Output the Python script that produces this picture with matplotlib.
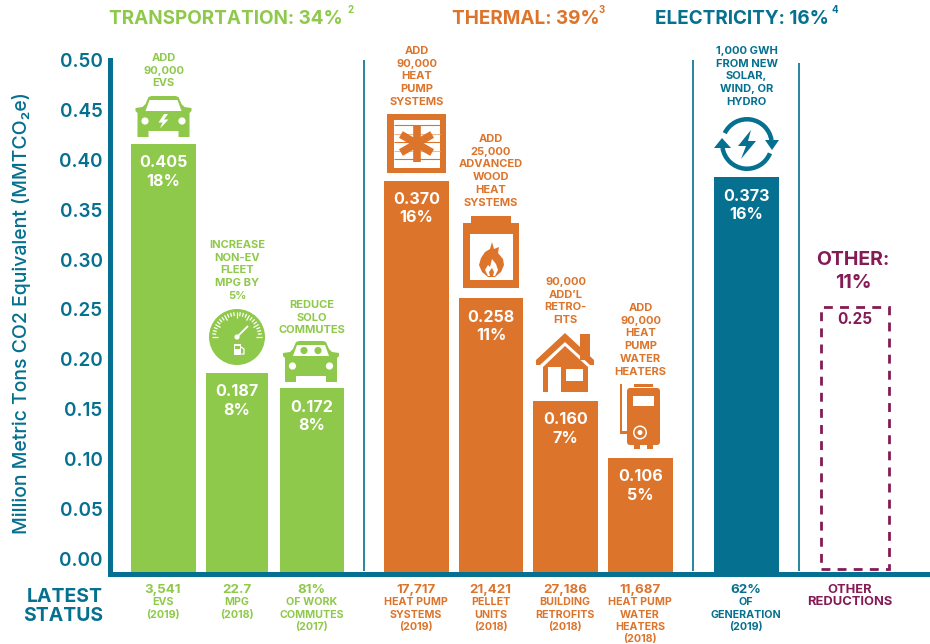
import numpy as np
import matplotlib
matplotlib.use('Agg')
import matplotlib.pyplot as plt
from matplotlib.patches import Rectangle, Circle, Polygon, Wedge, FancyBboxPatch

GREEN = '#8FC94B'
ORANGE = '#DD742B'
TEAL = '#05708F'
MAROON = '#851B55'

plt.rcParams['font.family'] = ['Inter', 'DejaVu Sans']

# chart values
bar_names = ['EVs', 'MPG', 'Commutes', 'Heat pumps', 'Pellet', 'Retrofits', 'HP water heaters', 'Generation']
bar_values = [0.405, 0.187, 0.172, 0.370, 0.258, 0.160, 0.106, 0.373]
bar_percents = ['18%', '8%', '8%', '16%', '11%', '7%', '5%', '16%']
bar_groups = ['t', 't', 't', 'h', 'h', 'h', 'h', 'e']
other_value = 0.25
y_ticks = [0.00, 0.05, 0.10, 0.15, 0.20, 0.25, 0.30, 0.35, 0.40, 0.45, 0.50]

captions = [
    ['ADD', '90,000', 'EVS'],
    ['INCREASE', 'NON-EV', 'FLEET', 'MPG BY', '5%'],
    ['REDUCE', 'SOLO', 'COMMUTES'],
    ['ADD', '90,000', 'HEAT', 'PUMP', 'SYSTEMS'],
    ['ADD', '25,000', 'ADVANCED', 'WOOD', 'HEAT', 'SYSTEMS'],
    ['90,000', 'ADD\u2019L', 'RETRO-', 'FITS'],
    ['ADD', '90,000', 'HEAT', 'PUMP', 'WATER', 'HEATERS'],
    ['1,000 GWH', 'FROM NEW', 'SOLAR,', 'WIND, OR', 'HYDRO'],
]
status = [
    ['3,541', 'EVS', '(2019)'],
    ['22.7', 'MPG', '(2018)'],
    ['81%', 'OF WORK', 'COMMUTES', '(2017)'],
    ['17,717', 'HEAT PUMP', 'SYSTEMS', '(2019)'],
    ['21,421', 'PELLET', 'UNITS', '(2018)'],
    ['27,186', 'BUILDING', 'RETROFITS', '(2018)'],
    ['11,687', 'HEAT PUMP', 'WATER', 'HEATERS', '(2018)'],
    ['62%', 'OF', 'GENERATION', '(2019)'],
]

# layout, in pixels of the 930x644 picture
colors = {'t': GREEN, 'h': ORANGE, 'e': TEAL}
bar_x = [163.5, 237, 312, 416.5, 491, 565.5, 640.5, 746.5]
bar_w = [65, 62, 64, 65, 64, 65, 65, 65]
caption_top = [57, 244, 304, 50, 138, 281, 307, 50]
LINE = 12.7
SCALE = 1050  # px per unit of bar height
ZERO = 569  # pixel row of value 0
W, H = 930, 644

fig = plt.figure(figsize=(9.3, 6.44), dpi=100)
ax = fig.add_axes([109.5 / W, (H - 573.5) / H, (W - 109.5) / W, 513.5 / H])
ax.set_xlim(109.5, W)
ax.set_ylim((ZERO - 573.5) / SCALE, (ZERO - 60) / SCALE)
ax.set_facecolor('none')

# bars run down into the axis line, which sits a little under value 0
ax.bar(bar_x, np.array(bar_values) + 4 / SCALE, bottom=-4 / SCALE, width=bar_w,
       color=[colors[g] for g in bar_groups], zorder=2)
ax.bar([855], [other_value], width=68, fill=False, edgecolor=MAROON, linewidth=2,
       linestyle=(0, (3.2, 2.6)), zorder=2)

for s in ['top', 'right']:
    ax.spines[s].set_visible(False)
for s in ['left', 'bottom']:
    ax.spines[s].set_linewidth(3.6)
    ax.spines[s].set_color(TEAL)
    ax.spines[s].set_zorder(3)
ax.set_xticks([])
ax.set_yticks([])


# printed scale of the original sits a bit off its bars, so it gets its own axis
def bar_to_tick(v):
    return (SCALE * np.asarray(v) - (ZERO - 559)) / 998


def tick_to_bar(t):
    return (998 * np.asarray(t) + (ZERO - 559)) / SCALE


sec = ax.secondary_yaxis('left', functions=(bar_to_tick, tick_to_bar))
sec.set_yticks(y_ticks)
sec.set_yticklabels(['%.2f' % t for t in y_ticks], fontsize=13.6, color=TEAL, fontweight='semibold')
sec.tick_params(length=0, pad=5)
sec.spines['left'].set_visible(False)

for x, v, p in zip(bar_x, bar_values, bar_percents):
    ax.annotate('%.3f' % v, (x, v), xytext=(0, -17.5), textcoords='offset pixels', ha='center',
                va='center_baseline', color='white', fontsize=11.6, fontweight='bold', zorder=4)
    ax.annotate(p, (x, v), xytext=(0, -36), textcoords='offset pixels', ha='center',
                va='center_baseline', color='white', fontsize=11.6, fontweight='bold', zorder=4)
ax.annotate('%.2f' % other_value, (855, other_value), xytext=(0, -12), textcoords='offset pixels',
            ha='center', va='center_baseline', color=MAROON, fontsize=11, fontweight='bold')

# overlay in picture pixels for the text and icons
ov = fig.add_axes([0, 0, 1, 1], zorder=5)
ov.set_xlim(0, W)
ov.set_ylim(H, 0)
ov.axis('off')


def label(x, y, t, c, size, ha='center', weight='bold'):
    # y is the middle of the capitals, so commas and brackets do not shift a line
    ov.text(x, y + 0.36 * size * 100 / 72, t, color=c, fontsize=size, fontweight=weight, ha=ha, va='baseline')


for x, y0, y1 in [(363.5, 60, 571), (693, 60, 571), (799, 63, 571)]:
    ov.plot([x, x], [y0, y1], color=TEAL, lw=1.2, solid_capstyle='butt')

label(109, 17, 'TRANSPORTATION: 34%', GREEN, 13.6, ha='left')
label(347, 9, '2', GREEN, 7, ha='left')
label(452, 17, 'THERMAL: 39%', ORANGE, 13.6, ha='left')
label(599, 9, '3', ORANGE, 7, ha='left')
label(655, 17, 'ELECTRICITY: 16%', TEAL, 13.6, ha='left')
label(831, 9, '4', TEAL, 7, ha='left')

ov.text(22, 313, 'Million Metric Tons CO2 Equivalent (MMTCO\u2082e)', color=TEAL, fontsize=14,
        fontweight='medium', rotation=90, ha='center', va='center')
label(853, 258, 'OTHER:', MAROON, 14)
label(853, 281, '11%', MAROON, 14)
label(103, 595, 'LATEST', TEAL, 14, ha='right')
label(103, 614, 'STATUS', TEAL, 14, ha='right')

for x, top, lines, g in zip(bar_x, caption_top, captions, bar_groups):
    for i, t in enumerate(lines):
        label(x, top + i * LINE, t, colors[g], 8.0)

for x, lines, g in zip(bar_x, status, bar_groups):
    label(x - 0.5, 588.5, lines[0], colors[g], 9.6)
    for i, t in enumerate(lines[1:]):
        label(x - 0.5, 601.5 + i * 12.3, t, colors[g], 7.7)
label(850, 588.5, 'OTHER', MAROON, 9.3)
label(850, 600.5, 'REDUCTIONS', MAROON, 9.3)


def rect(x0, y0, x1, y1, c):
    ov.add_patch(Rectangle((x0, y0), x1 - x0, y1 - y0, fc=c, ec='none'))


def poly(pts, c):
    ov.add_patch(Polygon(pts, closed=True, fc=c, ec='none'))


def circ(x, y, r, c):
    ov.add_patch(Circle((x, y), r, fc=c, ec='none'))


def car(cx, top, c):
    # body, 57 px wide and 42 px tall
    poly([(cx - 18, top + 8), (cx - 15, top + 1), (cx - 12, top), (cx + 12, top), (cx + 15, top + 1), (cx + 18, top + 8),
          (cx + 21, top + 11), (cx + 28, top + 12), (cx + 28, top + 15), (cx + 26, top + 17),
          (cx + 26, top + 41), (cx + 15, top + 41), (cx + 15, top + 35), (cx - 15, top + 35), (cx - 15, top + 41),
          (cx - 26, top + 41), (cx - 26, top + 17), (cx - 28, top + 15), (cx - 28, top + 12), (cx - 21, top + 11)], c)
    poly([(cx - 18, top + 15), (cx - 14, top + 4), (cx + 14, top + 4), (cx + 18, top + 15)], 'white')
    circ(cx - 18.5, top + 25, 3.6, 'white')
    circ(cx + 18.5, top + 25, 3.6, 'white')


# EV
car(163.5, 96, GREEN)
poly([(164, 114), (158.5, 122.5), (162.5, 122.5), (160, 128.5), (168.5, 119.5), (164, 119.5), (168, 114)], 'white')

# solo commute car, two heads in the windscreen
car(311, 341, GREEN)
circ(304, 350.5, 3.6, GREEN)
circ(318, 350.5, 3.6, GREEN)

# gauge
circ(237, 337, 28, GREEN)
for a in np.linspace(180, 360, 25):
    r0 = 19 if int(round((a - 180) / 7.5)) % 4 == 0 else 21
    c, s = np.cos(np.radians(a)), np.sin(np.radians(a))
    ov.plot([237 + r0 * c, 237 + 25 * c], [337 + r0 * s, 337 + 25 * s], color='white', lw=0.9, solid_capstyle='butt')
circ(237, 337, 2.6, 'white')
ov.plot([237, 248], [337, 326], color='white', lw=1.3, solid_capstyle='butt')
rect(233.5, 344, 241, 355, 'white')
rect(235, 346, 239.5, 349, GREEN)
ov.plot([241, 244, 244, 242], [347, 349, 354, 354], color='white', lw=0.9)

# heat pump unit
rect(387, 114, 446, 173, ORANGE)
rect(394, 120, 440, 168, 'white')
for y in [125, 133.5, 142, 151, 159]:
    ov.plot([394, 440], [y, y], color='#EDB78F' if y in (133.5, 151) else ORANGE, lw=0.8, solid_capstyle='butt')
for a in [90, 30, 150]:
    c, s = np.cos(np.radians(a)), np.sin(np.radians(a))
    ov.plot([416.5 - 18 * c, 416.5 + 18 * c], [143.5 - 18 * s, 143.5 + 18 * s], color=ORANGE, lw=5.5, solid_capstyle='butt')

# wood stove
rect(471, 216, 511, 224, ORANGE)
rect(463, 223, 519, 288, ORANGE)
rect(470, 234, 513, 280, 'white')
poly([(492, 242), (494, 249), (499, 247), (498, 253), (503, 259), (504, 265), (501, 272), (495, 277), (488, 277),
      (482, 272), (479, 265), (481, 258), (485, 252), (490, 249)], ORANGE)
poly([(492, 259), (496, 264), (498, 270), (495, 276), (488, 276), (485, 270), (488, 265), (490, 267)], 'white')
poly([(492, 268), (494, 272), (493, 276), (490, 276), (489, 272)], ORANGE)

# house
rect(580, 334, 590, 360, ORANGE)
poly([(565, 346), (588, 367), (588, 392), (543, 392), (543, 367)], ORANGE)
poly([(565, 333), (594, 360), (594, 365), (590, 365), (565, 342), (540, 365), (536, 365), (536, 360)], ORANGE)
rect(548, 367, 561, 392, 'white')
rect(566, 369, 583, 381, 'white')

# water heater
rect(634, 384, 653, 386.5, ORANGE)
ov.add_patch(FancyBboxPatch((629, 390), 29, 53, boxstyle='round,pad=2,rounding_size=3', fc=ORANGE, ec='none'))
rect(633, 396, 654, 406, 'white')
rect(634, 445, 640, 449, ORANGE)
rect(647, 445, 653, 449, ORANGE)
rect(620, 384, 622, 434, ORANGE)
rect(620, 431, 636, 434, ORANGE)
circ(640, 432.5, 7, 'white')
circ(640, 432.5, 5.5, ORANGE)
circ(640, 432.5, 2.5, 'white')

# renewables cycle
ov.add_patch(Wedge((747, 144), 27, 206, 351, width=4.5, fc=TEAL, ec='none'))
ov.add_patch(Wedge((747, 144), 27, 22, 171, width=4.5, fc=TEAL, ec='none'))
poly([(714, 148), (722, 138), (731, 148)], TEAL)
poly([(765, 140), (779, 140), (772, 150)], TEAL)
poly([(751, 130), (738, 146), (746, 146), (741, 159), (756, 141), (748, 141)], TEAL)

fig.savefig('out.png', dpi=100)
